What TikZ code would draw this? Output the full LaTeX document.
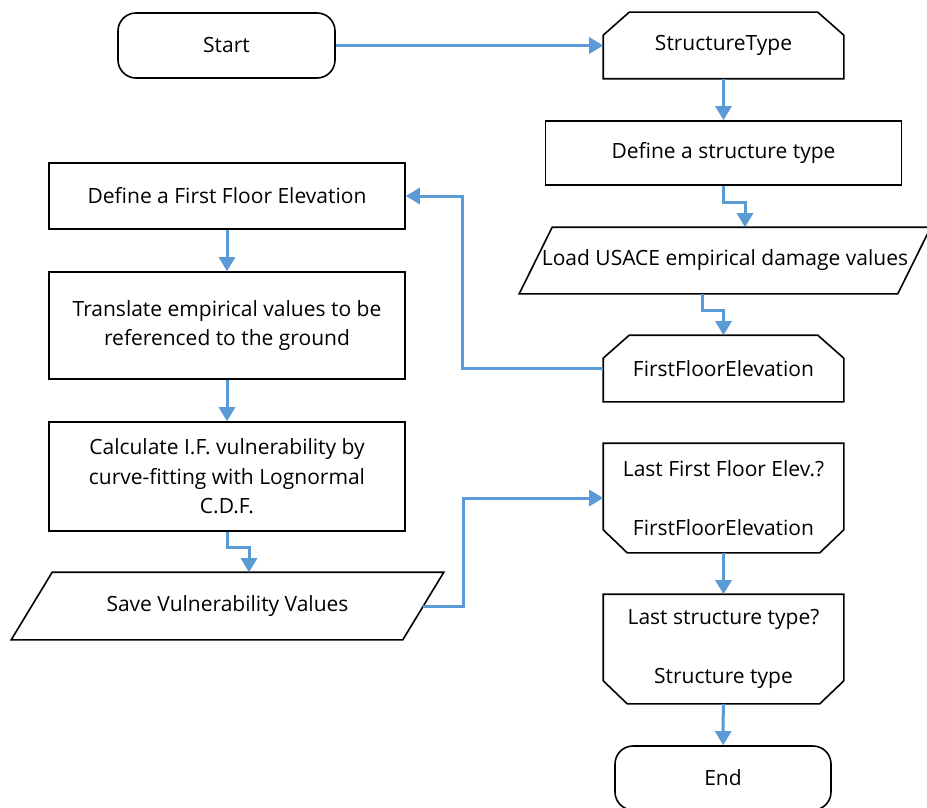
\documentclass[tikz,border=0pt]{standalone}
\usepackage{fontspec}
\setmainfont{Open Sans}
\usetikzlibrary{arrows.meta}
\definecolor{flowblue}{RGB}{91,155,213}
\begin{document}
\begin{tikzpicture}[x=1pt,y=-1pt,
    box/.style={draw, line width=1.6pt, minimum width=356pt, inner sep=2pt,
        font=\fontsize{21}{29.5}\selectfont, align=center},
    term/.style={box, rounded corners=18pt, minimum height=65pt},
    iobox/.style={box, draw=none, minimum height=65pt},
    loopbox/.style={box, draw=none, minimum width=239pt},
    outline/.style={draw, line width=1.6pt},
    flow/.style={draw=flowblue, line width=3pt, -{Triangle[width=16pt,length=14pt]}}]
    \useasboundingbox (0,0) rectangle (927,808);
    % right column
    \node[term, minimum width=217pt] (start) at (226.5,45.5) {Start};
    \node[loopbox, minimum height=65pt] (stype) at (723.5,45.5) {StructureType};
    \node[box, minimum height=64pt] (deftype) at (723.5,153) {Define a structure type};
    \node[iobox, minimum width=377pt] (load) at (725,260.5) {Load USACE empirical damage values};
    \node[loopbox, minimum height=65pt] (ffe) at (723.5,368.5) {FirstFloorElevation};
    % left column
    \node[box, minimum height=66pt] (deffloor) at (227,196) {Define a First Floor Elevation};
    \node[box, minimum height=107pt] (translate) at (227,325.5) {Translate empirical values to be\\referenced to the ground};
    \node[box, minimum height=109pt] (calc) at (227,476.5) {Calculate I.F. vulnerability by\\curve-fitting with Lognormal\\C.D.F.};
    \node[iobox, minimum width=390pt, minimum height=66pt] (save) at (227.5,606) {Save Vulnerability Values};
    % loop ends
    \node[loopbox, minimum height=108pt] (lastfloor) at (723.5,498) {Last First Floor Elev.?\\[29.5pt]FirstFloorElevation};
    \node[loopbox, minimum height=108pt] (lasttype) at (723.5,649) {Last structure type?\\[29.5pt]Structure type};
    \node[term, minimum width=216pt, minimum height=64pt] (finish) at (723,778) {End};
    % parallelograms
    \foreach \n/\s in {load/16.5, save/20.5}
        \draw[outline] ([xshift=-\s pt]\n.south west) -- ([xshift=\s pt]\n.north west)
            -- ([xshift=\s pt]\n.north east) -- ([xshift=-\s pt]\n.south east) -- cycle;
    % loop limits, cut corners
    \foreach \n in {stype, ffe}
        \draw[outline] (\n.south west) -- ([yshift=-23pt]\n.north west) -- ([xshift=26pt]\n.north west)
            -- ([xshift=-26pt]\n.north east) -- ([yshift=-23pt]\n.north east) -- (\n.south east) -- cycle;
    \foreach \n in {lastfloor, lasttype}
        \draw[outline] (\n.north west) -- ([yshift=23pt]\n.south west) -- ([xshift=24pt]\n.south west)
            -- ([xshift=-24pt]\n.south east) -- ([yshift=23pt]\n.south east) -- (\n.north east) -- cycle;
    % connectors
    \draw[flow] (start) -- (stype);
    \draw[flow] (stype.south) -- (deftype.north);
    \draw[flow] (deftype.south) -- ++(0,17) -| ([xshift=20pt]load.north);
    \draw[flow] ([xshift=-23pt]load.south) -- ++(0,17) -| (ffe.north);
    \draw[flow] (ffe.west) -- ++(-141,0) |- (deffloor.east);
    \draw[flow] (deffloor) -- (translate);
    \draw[flow] (translate) -- (calc);
    \draw[flow] (calc.south) -- ++(0,16) -| ([xshift=21.5pt]save.north);
    \draw[flow] (save.east) -- ++(40.5,0) |- (lastfloor.west);
    \draw[flow] (lastfloor) -- (lasttype);
    \draw[flow] (lasttype) -- (finish);
\end{tikzpicture}
\end{document}
